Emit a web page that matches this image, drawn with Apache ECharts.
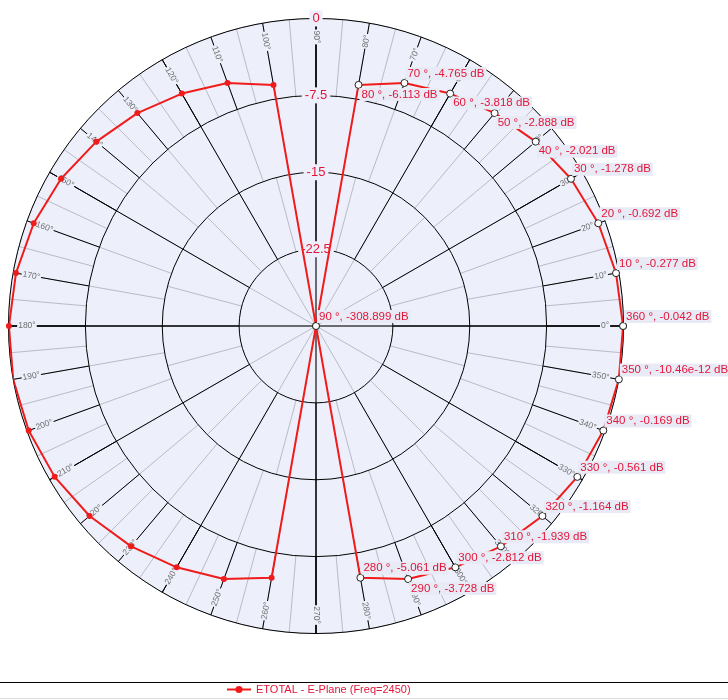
<!DOCTYPE html>
<html><head><meta charset="utf-8">
<script src="https://cdn.jsdelivr.net/npm/echarts@6/dist/echarts.min.js"></script>
<style>html,body{margin:0;padding:0;background:#fff}#c{width:728px;height:700px}</style>
</head><body><div id="c"></div>
<script>
// ---- data ----
const angles = [0,10,20,30,40,50,60,70,80,90,100,110,120,130,140,150,160,170,180,
                190,200,210,220,230,240,250,260,270,280,290,300,310,320,330,340,350,360];
const gainDb = [-0.042,-0.277,-0.692,-1.278,-2.021,-2.888,-3.818,-4.765,-6.113,-308.899,
                -6.113,-4.765,-3.818,-2.888,-2.021,-1.278,-0.692,-0.277,-0.042,
                0,-0.169,-0.561,-1.164,-1.939,-2.812,-3.728,-5.061,-308.899,
                -5.061,-3.728,-2.812,-1.939,-1.164,-0.561,-0.169,-10.46e-12,-0.042];
const radiusTicks = [0, -7.5, -15, -22.5];
const angleTicks = [0,10,20,30,40,50,60,70,80,90,100,110,120,130,140,150,160,170,
                    180,190,200,210,220,230,240,250,260,270,280,290,300,310,320,330,340,350];
const labelBelowAngles = [40, 50, 60, 80, 290];
const seriesName = 'ETOTAL - E-Plane (Freq=2450)';

// ---- style / layout ----
const CX = 316, CY = 326, R = 307.5;
const RMIN = -30, RMAX = 0;
const BG = '#edf0fa', GRAY = '#b8bcc8', BLACK = '#000', RED = '#f01c1c', TXT = '#e3163a';
const FONT = '"Liberation Sans", Arial, sans-serif';
const ANGLE_LABEL_DB = -1.8;

function fmtDb(v) {
  if (v !== 0 && Math.abs(v) < 1e-6) return (v * 1e12).toFixed(2) + 'e-12';
  return v.toFixed(3);
}

const rings = [
  // [r0, r1, angleInterval, angleColor, radiusInterval, radiusColor, z, fillBg]
  [0, R, null, null, 1.5, GRAY, 1, true],
  [0, R, null, null, 7.5, BLACK, 2, false],
  [0, R/4, 30, GRAY, null, null, 1, false],
  [R/4, R/2, 15, GRAY, null, null, 1, false],
  [R/2, 3*R/4, 10, GRAY, null, null, 1, false],
  [3*R/4, R, 5, GRAY, null, null, 1, false],
  [0, R, 90, BLACK, null, null, 2, false],
  [R/4, R, 30, BLACK, null, null, 2, false],
  [3*R/4, R, 10, BLACK, null, null, 2, false]
];

const polar = [], angleAxis = [], radiusAxis = [];
rings.forEach((g, i) => {
  polar.push({ center: [CX, CY], radius: [g[0], g[1]] });
  angleAxis.push({
    polarIndex: i, type: 'value', min: 0, max: 360, interval: g[2] || 90,
    startAngle: 0, clockwise: false, z: g[6],
    axisLine: { show: false }, axisTick: { show: false }, axisLabel: { show: false },
    splitLine: { show: !!g[2], lineStyle: { color: g[3] || GRAY, width: 1 } }
  });
  radiusAxis.push({
    polarIndex: i, type: 'value', min: RMIN, max: RMAX, interval: g[4] || 7.5, z: g[6],
    axisLine: { show: false }, axisTick: { show: false }, axisLabel: { show: false },
    splitLine: { show: !!g[4], lineStyle: { color: g[5] || GRAY, width: 1 } },
    splitArea: { show: g[7], areaStyle: { color: [BG] } }
  });
});

const HOLLOW_SIZE = 7;
const pointData = angles.map((a, i) => {
  const g = gainDb[i];
  const hollow = a <= 90 || a >= 270;
  const labeled = hollow && a !== 270 && a !== 0;
  const item = { value: [Math.max(g, RMIN), a] };
  if (hollow) {
    item.symbolSize = HOLLOW_SIZE;
    item.itemStyle = { color: '#fff', borderColor: '#222', borderWidth: 1 };
  }
  if (labeled) {
    const below = labelBelowAngles.indexOf(a) >= 0;
    const c = HOLLOW_SIZE / 2;
    item.label = {
      show: true,
      position: [c + 1.5, below ? c + 10 : c - 9],
      align: 'left', verticalAlign: 'middle',
      formatter: a + ' °, ' + fmtDb(g) + ' dB',
      color: TXT, fontSize: 11.5, fontFamily: FONT,
      backgroundColor: '#e8ebf5', padding: [1, 2, 0, 2]
    };
  }
  return item;
});

const option = {
  animation: false,
  backgroundColor: '#fff',
  polar, angleAxis, radiusAxis,
  legend: {
    data: [seriesName], left: 226, top: 684, padding: 0,
    itemWidth: 24, itemHeight: 9,
    textStyle: { color: TXT, fontSize: 11, fontFamily: FONT }
  },
  graphic: [
    { type: 'line', shape: { x1: 0, y1: 682.5, x2: 728, y2: 682.5 }, style: { stroke: '#000', lineWidth: 1 }, silent: true },
    { type: 'line', shape: { x1: 0, y1: 698.5, x2: 728, y2: 698.5 }, style: { stroke: '#dcdcdc', lineWidth: 1 }, silent: true }
  ],
  series: [
    {
      type: 'custom', coordinateSystem: 'polar', polarIndex: 0, z: 5, silent: true,
      data: angleTicks.map(a => [ANGLE_LABEL_DB, a]),
      encode: { radius: 0, angle: 1 },
      renderItem: (params, api) => {
        const a = api.value(1);
        const p = api.coord([api.value(0), a]);
        const rot = (a >= 90 && a < 270) ? a - 180 : (a >= 270 ? a - 360 : a);
        return {
          type: 'text', x: p[0], y: p[1], rotation: rot * Math.PI / 180,
          style: {
            text: a + '°', fill: '#707070', fontSize: 8.5, fontFamily: FONT,
            align: 'center', verticalAlign: 'middle', backgroundColor: BG, padding: [0, 1]
          }
        };
      }
    },
    {
      type: 'custom', coordinateSystem: 'polar', polarIndex: 0, z: 6, silent: true,
      data: radiusTicks.map(v => [v, 90]),
      encode: { radius: 0, angle: 1 },
      renderItem: (params, api) => {
        const v = api.value(0);
        const p = api.coord([v, api.value(1)]);
        return {
          type: 'text', x: p[0], y: p[1],
          style: {
            text: String(v), fill: TXT, fontSize: 13, fontFamily: FONT,
            align: 'center', verticalAlign: 'middle', backgroundColor: BG, padding: [2, 3, 1, 3]
          }
        };
      }
    },
    {
      type: 'line', name: seriesName, coordinateSystem: 'polar', polarIndex: 0, z: 10,
      data: pointData,
      symbol: 'circle', symbolSize: 6, showAllSymbol: true,
      lineStyle: { color: RED, width: 2 },
      itemStyle: { color: RED },
      emphasis: { disabled: true }
    }
  ]
};

const chart = echarts.init(document.getElementById('c'), null, { renderer: 'canvas' });
chart.setOption(option);
</script>
</body></html>
